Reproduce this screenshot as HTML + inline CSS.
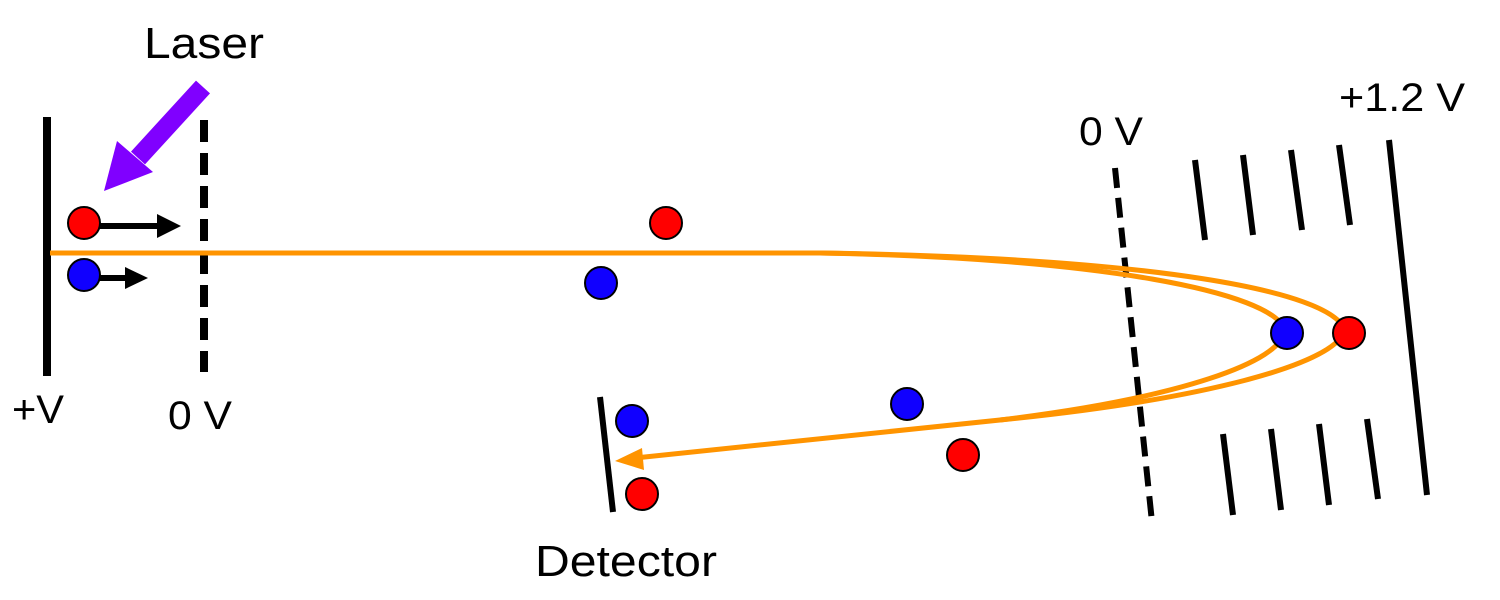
<!DOCTYPE html>
<html><head><meta charset="utf-8"><style>body{margin:0;background:#fff}svg{display:block}text{font-family:"Liberation Sans",sans-serif;fill:#000}</style></head><body>
<svg width="1500" height="600" viewBox="0 0 1500 600" xmlns="http://www.w3.org/2000/svg">
<g stroke="#000" stroke-width="8" fill="none">
<line x1="47" y1="117" x2="47" y2="376"/>
<line x1="204" y1="120" x2="204" y2="372" stroke-dasharray="22,11"/>
<line x1="1115" y1="168" x2="1152" y2="522" stroke-dasharray="20,10" stroke-width="6"/>
<g stroke-width="6">
<line x1="1195" y1="160" x2="1205" y2="240"/><line x1="1243" y1="155" x2="1253" y2="235"/>
<line x1="1291" y1="150" x2="1302" y2="230"/><line x1="1339" y1="145" x2="1350" y2="225"/>
<line x1="1223" y1="434" x2="1233" y2="515"/><line x1="1271" y1="429" x2="1281" y2="510"/>
<line x1="1319" y1="424" x2="1329" y2="505"/><line x1="1367" y1="419" x2="1378" y2="499"/>
<line x1="1389" y1="140" x2="1427" y2="495"/>
<line x1="600" y1="397" x2="613" y2="512"/>
</g>
</g>
<g stroke="#ff9400" stroke-width="5" fill="none">
<path d="M50,253 L820,253 C1150,258 1330,290 1345,330 C1335,365 1200,400 1000,420 L635,458"/>
<path d="M820,253 C1100,258 1272,292 1285,330 C1282,362 1180,398 1000,420"/>
</g>
<polygon points="615,461 642,448 644,470" fill="#ff9400"/>
<g stroke="#000" stroke-width="6">
<line x1="96" y1="226" x2="160" y2="226"/><line x1="96" y1="278" x2="128" y2="278"/>
</g>
<polygon points="157,214 181,226 157,238" fill="#000"/>
<polygon points="125,267 148,278 125,289" fill="#000"/>
<line x1="203" y1="87" x2="138" y2="158" stroke="#8000ff" stroke-width="19"/>
<polygon points="104,191 117,141 153,172" fill="#8000ff"/>
<g stroke="#000" stroke-width="2">
<circle cx="84" cy="223" r="16" fill="#ff0000"/><circle cx="84" cy="275" r="16" fill="#1000ff"/>
<circle cx="666" cy="223" r="16" fill="#ff0000"/><circle cx="601" cy="283" r="16" fill="#1000ff"/>
<circle cx="907" cy="404" r="16" fill="#1000ff"/><circle cx="963" cy="455" r="16" fill="#ff0000"/>
<circle cx="632" cy="421" r="16" fill="#1000ff"/><circle cx="642" cy="494" r="16" fill="#ff0000"/>
<circle cx="1287" cy="333" r="16" fill="#1000ff"/><circle cx="1349" cy="333" r="16" fill="#ff0000"/>
</g>
<text x="144" y="58" font-size="44" textLength="120" lengthAdjust="spacingAndGlyphs">Laser</text>
<text x="12" y="423" font-size="40" textLength="52" lengthAdjust="spacingAndGlyphs">+V</text>
<text x="168" y="429" font-size="40" textLength="64" lengthAdjust="spacingAndGlyphs">0 V</text>
<text x="1079" y="145" font-size="40" textLength="64" lengthAdjust="spacingAndGlyphs">0 V</text>
<text x="1339" y="111" font-size="40" textLength="126" lengthAdjust="spacingAndGlyphs">+1.2 V</text>
<text x="535" y="576" font-size="44" textLength="182" lengthAdjust="spacingAndGlyphs">Detector</text>
</svg>
</body></html>
